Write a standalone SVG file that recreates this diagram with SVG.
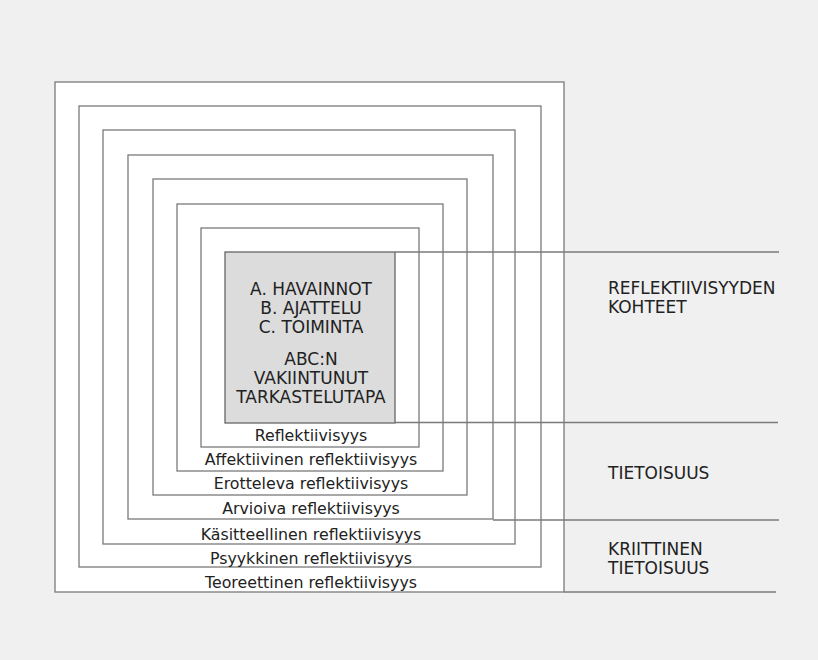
<svg xmlns="http://www.w3.org/2000/svg" width="818" height="660" viewBox="0 0 818 660">
<style>
.bg{fill:#f0f0f0}
.box{fill:#ffffff;stroke:#7a7a7a;stroke-width:1.3}
.core{fill:#dcdcdc;stroke:#666666;stroke-width:1.3}
.lbl{font-family:"DejaVu Sans","Liberation Sans",sans-serif;font-size:15.8px;fill:#222222;text-anchor:middle}
.core-t{font-family:"DejaVu Sans","Liberation Sans",sans-serif;font-size:17px;fill:#222222;text-anchor:middle}
.side{font-family:"DejaVu Sans","Liberation Sans",sans-serif;font-size:17px;fill:#222222}
.conn{stroke:#7a7a7a;stroke-width:1.3;fill:none}
</style>
<rect class="bg" x="0" y="0" width="818" height="660"/>
<g id="teoreettinen"><rect class="box" x="55" y="82" width="509" height="510"/></g>
<g id="psyykkinen"><rect class="box" x="79" y="106" width="462" height="461"/></g>
<g id="kasitteellinen"><rect class="box" x="103" y="130" width="412" height="414"/></g>
<g id="arvioiva"><rect class="box" x="128" y="155" width="365" height="364"/></g>
<g id="erotteleva"><rect class="box" x="153" y="179" width="314" height="316"/></g>
<g id="affektiivinen"><rect class="box" x="177" y="204" width="266" height="267"/></g>
<g id="reflektiivisyys"><rect class="box" x="201" y="228" width="218" height="219"/></g>
<g id="kohteet-core">
<rect class="core" x="225" y="252" width="170" height="171"/>
<text class="core-t" x="311" y="295">A. HAVAINNOT</text>
<text class="core-t" x="311" y="314">B. AJATTELU</text>
<text class="core-t" x="311" y="333">C. TOIMINTA</text>
<text class="core-t" x="311" y="365">ABC:N</text>
<text class="core-t" x="311" y="384">VAKIINTUNUT</text>
<text class="core-t" x="311" y="403">TARKASTELUTAPA</text>
</g>
<g id="labels">
<text class="lbl" x="311" y="440.5">Reflektiivisyys</text>
<text class="lbl" x="311" y="465">Affektiivinen reflektiivisyys</text>
<text class="lbl" x="311" y="489">Erotteleva reflektiivisyys</text>
<text class="lbl" x="311" y="513.5">Arvioiva reflektiivisyys</text>
<text class="lbl" x="311" y="539.5">Käsitteellinen reflektiivisyys</text>
<text class="lbl" x="311" y="563.5">Psyykkinen reflektiivisyys</text>
<text class="lbl" x="311" y="587.5">Teoreettinen reflektiivisyys</text>
</g>
<g id="connectors">
<line class="conn" x1="395" y1="252" x2="779" y2="252"/>
<line class="conn" x1="395" y1="422.5" x2="778" y2="422.5"/>
<line class="conn" x1="493" y1="520" x2="779" y2="520"/>
<line class="conn" x1="564" y1="592" x2="776" y2="592"/>
</g>
<g id="side-kohteet">
<text class="side" x="608" y="294">REFLEKTIIVISYYDEN</text>
<text class="side" x="608" y="313">KOHTEET</text>
</g>
<g id="side-tietoisuus">
<text class="side" x="608" y="479">TIETOISUUS</text>
</g>
<g id="side-kriittinen">
<text class="side" x="608" y="555">KRIITTINEN</text>
<text class="side" x="608" y="574">TIETOISUUS</text>
</g>
</svg>
